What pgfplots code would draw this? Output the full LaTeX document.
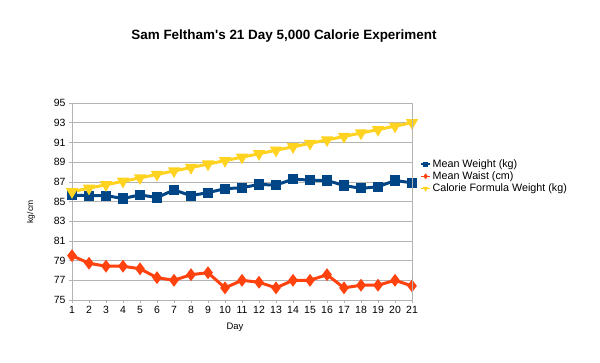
\documentclass[border=0pt]{standalone}
\usepackage{fontspec}
\setmainfont{Liberation Sans}
\newfontfamily\plainfont{Liberation Sans}
\usepackage{pgfplots}
\pgfplotsset{compat=1.18}
\definecolor{lblue}{HTML}{004586}
\definecolor{lred}{HTML}{FF420E}
\definecolor{lyellow}{HTML}{FFD320}
\definecolor{lgrid}{HTML}{B3B3B3}
\begin{document}
\begin{tikzpicture}[x=1bp,y=1bp]
\fill[white] (0,0) rectangle (600,362);
\node[font=\plainfont\bfseries\fontsize{13.5}{15}\selectfont] at (284,326) {Sam Feltham's 21 Day 5,000 Calorie Experiment};
\node[rotate=90, font=\fontsize{8.5}{10}\selectfont] at (31,150) {kg/cm};
\begin{axis}[
  at={(72bp,62bp)}, anchor=south west,
  scale only axis, width=340bp, height=197bp,
  xmin=1, xmax=21, ymin=75, ymax=95,
  xtick={1,...,21}, ytick={75,77,...,95},
  ymajorgrids, major grid style={lgrid, line width=0.6pt},
  axis line style={lgrid, line width=0.6pt},
  tick style={lgrid, line width=0.6pt},
  tick align=outside, major tick length=3bp,
  xtick pos=bottom, ytick pos=left,
  /pgf/number format/assume math mode=true,
  tick label style={font=\fontsize{10.5}{12}\selectfont},
  xlabel={Day},
  label style={font=\fontsize{9.5}{11}\selectfont},
  xlabel style={yshift=-2bp, xshift=-7bp},
  clip=false,
  legend style={at={(1.025,0.725)}, anchor=north west, draw=none, fill=none,
    font=\fontsize{10.8}{12}\selectfont, row sep=-1pt, inner sep=0pt,
    legend cell align=left},
  legend image code/.code={\draw[#1, line width=1.4pt] (0cm,0cm) -- (0.3cm,0cm) plot[mark size=1.8pt] coordinates {(0.15cm,0cm)};},
]
\addplot[color=lblue, line width=3pt, mark=square*, mark size=3.6pt, mark options={solid}] coordinates {
(1,85.63)(2,85.6)(3,85.6)(4,85.3)(5,85.67)(6,85.4)(7,86.17)(8,85.6)(9,85.9)(10,86.3)
(11,86.4)(12,86.73)(13,86.67)(14,87.27)(15,87.17)(16,87.13)(17,86.63)(18,86.33)(19,86.5)(20,87.13)(21,86.9)};
\addlegendentry{Mean Weight (kg)}
\addplot[color=lred, line width=3pt, mark=diamond*, mark size=4pt, mark options={solid}] coordinates {
(1,79.5)(2,78.73)(3,78.43)(4,78.43)(5,78.17)(6,77.27)(7,77.0)(8,77.57)(9,77.77)(10,76.23)
(11,77.0)(12,76.8)(13,76.23)(14,77.0)(15,77.0)(16,77.57)(17,76.23)(18,76.5)(19,76.5)(20,77.0)(21,76.43)};
\addlegendentry{Mean Waist (cm)}
\addplot[color=lyellow, line width=3pt, mark=triangle*, mark size=4.2pt, mark options={solid, rotate=180}] coordinates {
(1,86.0)(2,86.35)(3,86.7)(4,87.05)(5,87.4)(6,87.75)(7,88.1)(8,88.45)(9,88.8)(10,89.15)
(11,89.5)(12,89.85)(13,90.2)(14,90.55)(15,90.9)(16,91.25)(17,91.6)(18,91.95)(19,92.3)(20,92.65)(21,93.0)};
\addlegendentry{Calorie Formula Weight (kg)}
\end{axis}
\draw[lgrid, line width=0.6pt] (412,62) -- (412,259);
\end{tikzpicture}
\end{document}
